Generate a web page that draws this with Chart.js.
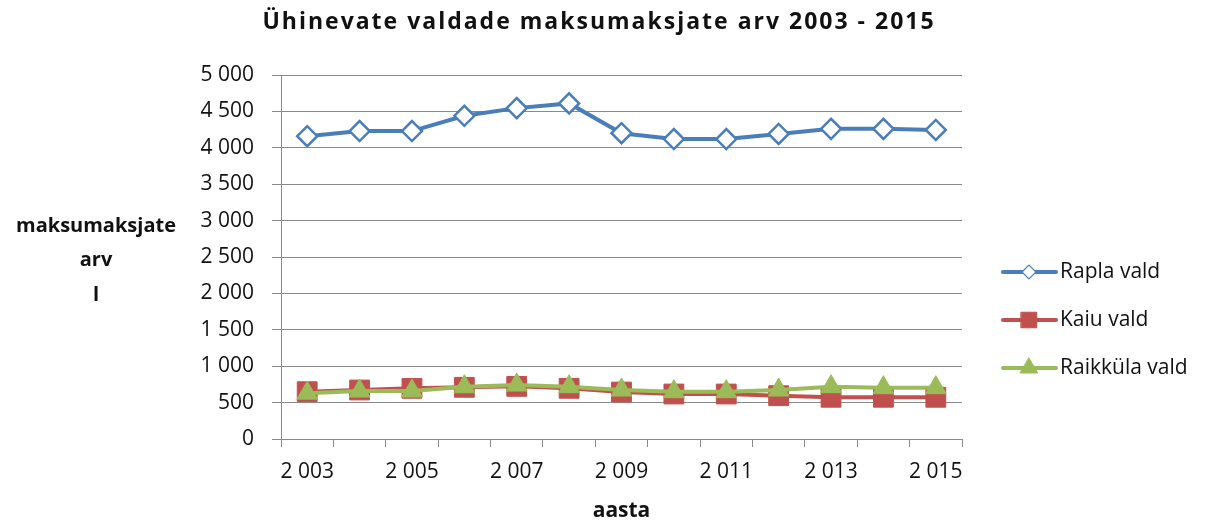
<!DOCTYPE html>
<html>
<head>
<meta charset="utf-8">
<script src="https://cdn.jsdelivr.net/npm/chart.js@4"></script>
<style>
  html, body { margin: 0; padding: 0; background: #fff; }
  #wrap { width: 1212px; height: 524px; }
</style>
</head>
<body>
<div id="wrap"><canvas id="canvas"></canvas></div>
<script>
// data
var years = [2003, 2004, 2005, 2006, 2007, 2008, 2009, 2010, 2011, 2012, 2013, 2014, 2015];
var rapla = [4160, 4230, 4230, 4440, 4545, 4610, 4200, 4120, 4120, 4190, 4260, 4260, 4245];
var kaiu = [650, 673, 696, 710, 723, 696, 645, 618, 618, 595, 573, 573, 573];
var raikkula = [630, 659, 659, 718, 741, 718, 673, 650, 650, 673, 718, 705, 705];
var yTicks = [0, 500, 1000, 1500, 2000, 2500, 3000, 3500, 4000, 4500, 5000];

var FONT = '"Open Sans", "Noto Sans", sans-serif';
var GRID = '#8a8a8a';
var TEXT = '#111111';

function fmt(n) {
    return String(n).replace(/\B(?=(\d{3})+(?!\d))/g, ' ');
}

// title (spaced out like the original) and horizontal y axis title
var texts = {
    id: 'texts',
    afterDraw: function(chart) {
        var ctx = chart.ctx;
        ctx.save();
        ctx.fillStyle = TEXT;
        ctx.textAlign = 'center';
        ctx.textBaseline = 'middle';
        ctx.font = 'bold 23px ' + FONT;
        ctx.letterSpacing = '2px';
        ctx.fillText('Ühinevate valdade maksumaksjate arv 2003 - 2015', 599, 22);
        ctx.letterSpacing = '0px';
        ctx.font = 'bold 20px ' + FONT;
        ctx.fillText('maksumaksjate', 96, 226);
        ctx.fillText('arv', 96, 260);
        ctx.fillText('l', 96, 295);
        ctx.restore();
    }
};

// legend with line + marker like the original
var lineLegend = {
    id: 'lineLegend',
    afterDraw: function(chart) {
        var ctx = chart.ctx;
        var rows = [272, 320, 368];
        ctx.save();
        chart.data.datasets.forEach(function(ds, i) {
            var y = rows[i];
            ctx.strokeStyle = ds.borderColor;
            ctx.lineWidth = ds.borderWidth;
            ctx.lineCap = 'round';
            ctx.beginPath();
            ctx.moveTo(1003, y);
            ctx.lineTo(1056, y);
            ctx.stroke();
            ctx.fillStyle = ds.pointBackgroundColor;
            ctx.strokeStyle = ds.pointBorderColor;
            ctx.lineWidth = ds.legendMarkerBorder;
            Chart.helpers.drawPoint(ctx, {
                pointStyle: ds.pointStyle,
                radius: ds.legendMarkerRadius,
                rotation: 0,
                borderWidth: ds.legendMarkerBorder
            }, 1029, y);
            ctx.fillStyle = TEXT;
            ctx.font = '21px ' + FONT;
            ctx.textAlign = 'left';
            ctx.textBaseline = 'middle';
            ctx.fillText(ds.label, 1060, y);
        });
        ctx.restore();
    }
};

new Chart(document.getElementById('canvas'), {
    type: 'line',
    data: {
        labels: years,
        datasets: [{
            label: 'Rapla vald',
            data: rapla,
            borderColor: '#4a7ebb',
            borderWidth: 4,
            pointStyle: 'rectRot',
            pointRadius: 10,
            pointBorderWidth: 2.5,
            pointBackgroundColor: '#ffffff',
            pointBorderColor: '#4a7ebb',
            legendMarkerRadius: 7,
            legendMarkerBorder: 1.2,
            order: 2
        }, {
            label: 'Kaiu vald',
            data: kaiu,
            borderColor: '#c0504d',
            borderWidth: 4,
            pointStyle: 'rect',
            pointRadius: 14,
            pointBorderWidth: 1,
            pointBackgroundColor: '#c0504d',
            pointBorderColor: '#c0504d',
            legendMarkerRadius: 11,
            legendMarkerBorder: 1,
            order: 1
        }, {
            label: 'Raikküla vald',
            data: raikkula,
            borderColor: '#9bbb59',
            borderWidth: 4,
            pointStyle: 'triangle',
            pointRadius: 12,
            pointBorderWidth: 1,
            pointBackgroundColor: '#9bbb59',
            pointBorderColor: '#9bbb59',
            legendMarkerRadius: 10,
            legendMarkerBorder: 1,
            order: 0
        }]
    },
    options: {
        responsive: true,
        maintainAspectRatio: false,
        animation: false,
        layout: {
            padding: { left: 180, right: 250, top: 75, bottom: 0 }
        },
        elements: {
            line: { tension: 0 }
        },
        plugins: {
            legend: { display: false },
            tooltip: { enabled: false },
            title: { display: false }
        },
        scales: {
            x: {
                type: 'category',
                offset: true,
                afterFit: function(scale) { scale.height = 85; },
                grid: {
                    offset: true,
                    drawOnChartArea: false,
                    drawTicks: true,
                    tickLength: 8,
                    color: GRID
                },
                border: { color: GRID, width: 1 },
                ticks: {
                    autoSkip: false,
                    maxRotation: 0,
                    padding: 12,
                    color: TEXT,
                    font: { family: FONT, size: 21 },
                    callback: function(val, idx) {
                        return idx % 2 === 0 ? fmt(years[idx]) : '';
                    }
                },
                title: {
                    display: true,
                    text: 'aasta',
                    color: TEXT,
                    font: { family: FONT, size: 21, weight: 'bold' },
                    padding: { top: 0, bottom: 0 }
                }
            },
            y: {
                min: yTicks[0],
                max: yTicks[yTicks.length - 1],
                afterFit: function(scale) { scale.width = 101; },
                afterBuildTicks: function(scale) {
                    scale.ticks = yTicks.map(function(v) { return { value: v }; });
                },
                grid: {
                    color: GRID,
                    tickLength: 9,
                    lineWidth: 1
                },
                border: { color: GRID, width: 1 },
                ticks: {
                    padding: 18,
                    color: TEXT,
                    font: { family: FONT, size: 21 },
                    callback: function(v) { return fmt(v); }
                }
            }
        }
    },
    plugins: [texts, lineLegend]
});
</script>
</body>
</html>
